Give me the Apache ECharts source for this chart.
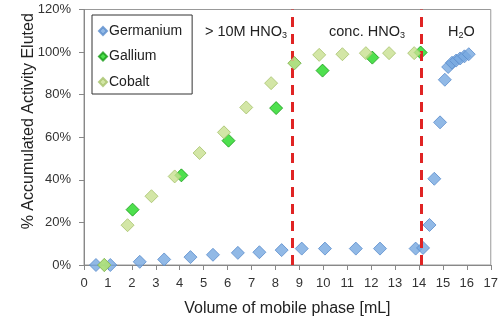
<!DOCTYPE html>
<html><head><meta charset="utf-8">
<script src="https://cdn.jsdelivr.net/npm/echarts@6/dist/echarts.min.js"></script>
<style>html,body{margin:0;padding:0;background:#fff}#c{width:501px;height:322px}</style>
</head><body><div id="c"></div>
<script>
// Data: [volume mL, % accumulated activity]
const germanium = [
  [0.5,0],[1.1,0],[2.33,1.5],[3.35,2.6],[4.45,3.7],[5.39,4.8],[6.43,5.7],[7.33,6.0],[8.26,7.0],
  [9.1,7.7],[10.07,7.7],[11.36,7.7],[12.37,7.7],[13.86,7.7],[14.17,8.0],[14.44,18.8],[14.64,40.5],
  [14.88,67],[15.08,87],[15.22,93],[15.38,95],[15.55,96],[15.72,97],[15.9,98],[16.08,99]
];
const gallium = [
  [0.85,0],[2.03,26],[4.07,42.1],[6.04,58.4],[8.03,73.7],[8.8,94.8],[9.97,91.3],[12.05,97.4],[14.07,99.8]
];
const cobalt = [
  [0.85,0],[1.82,18.7],[2.82,32.3],[3.79,41.6],[4.83,52.6],[5.85,62.3],[6.78,74],[7.82,85.4],[8.79,94.8],
  [9.83,98.7],[10.8,99],[11.78,99.5],[12.75,99.5],[13.8,99.5]
];
const seriesNames = ['Germanium','Gallium','Cobalt'];
const dividerX = [8.7, 14.1];
const regionLabels = ['> 10M HNO{s|3}', 'conc. HNO{s|3}', 'H{s|2}O'];
const xTitle = 'Volume of mobile phase [mL]';
const yTitle = '% Accumulated Activity Eluted';

const FONT = 'Liberation Sans, Arial, sans-serif';
const chart = echarts.init(document.getElementById('c'), null, {renderer:'canvas'});
const styles = [
  {color:'#76a8e0', borderColor:'#5a8ccc'},
  {color:'#22d822', borderColor:'#179a17'},
  {color:'#c8e090', borderColor:'#a6c26c'}
];
const datasets = [germanium, gallium, cobalt];
const series = datasets.map((d,i)=>({
  name: seriesNames[i], type:'scatter', data:d, symbol:'diamond', symbolSize:13,
  itemStyle:{color:styles[i].color, borderColor:styles[i].borderColor, borderWidth:1},
  z: 3+i
}));
series.push({
  type:'scatter', data:[], silent:true,
  markLine:{
    symbol:['none','none'], silent:true, label:{show:false},
    lineStyle:{color:'#e02424', width:3, type:[10,7]},
    data: dividerX.map(x=>({xAxis:x}))
  }, z:10
});
const rich = {s:{fontSize:9, verticalAlign:'bottom', padding:[8,0,0,0], fontFamily:FONT, color:'#222'}};
chart.setOption({
  animation:false,
  textStyle:{fontFamily:FONT},
  grid:{left:84, right:9, top:9.5, bottom:56.5, show:true, borderColor:'#999', borderWidth:1},
  legend:{
    data: seriesNames.map(n=>({name:n, icon:'diamond'})),
    orient:'vertical', left:92, top:15, itemWidth:8, itemHeight:8, itemGap:11.5,
    padding:[9,10,5,6], borderColor:'#333', borderWidth:1,
    textStyle:{fontSize:14, color:'#222', fontFamily:FONT, padding:[0,0,0,-3]}
  },
  xAxis:{
    type:'value', min:0, max:17, interval:1,
    name:xTitle, nameLocation:'middle', nameGap:36, nameMoveOverlap:false,
    nameTextStyle:{fontSize:16, color:'#222', fontFamily:FONT},
    axisLine:{lineStyle:{color:'#888'}}, axisTick:{show:true, length:5, lineStyle:{color:'#888'}},
    axisLabel:{fontSize:13, color:'#333', margin:12}, splitLine:{show:false}
  },
  yAxis:{
    type:'value', min:0, max:120, interval:20,
    name:yTitle, nameLocation:'middle', nameGap:47, nameMoveOverlap:false,
    nameTextStyle:{fontSize:16, color:'#222', fontFamily:FONT, padding:[0,0,0,32]},
    axisLine:{show:true, lineStyle:{color:'#888'}}, axisTick:{show:true, length:5, lineStyle:{color:'#888'}},
    axisLabel:{fontSize:13, color:'#333', formatter:'{value}%', margin:13}, splitLine:{show:false}
  },
  graphic:[
    {type:'text', left:205, top:24, style:{text:regionLabels[0], rich, fontSize:14.5, fill:'#222', fontFamily:FONT}},
    {type:'text', left:329, top:24, style:{text:regionLabels[1], rich, fontSize:14.5, fill:'#222', fontFamily:FONT}},
    {type:'text', left:448, top:24, style:{text:regionLabels[2], rich, fontSize:14.5, fill:'#222', fontFamily:FONT}}
  ],
  series
});
</script></body></html>
